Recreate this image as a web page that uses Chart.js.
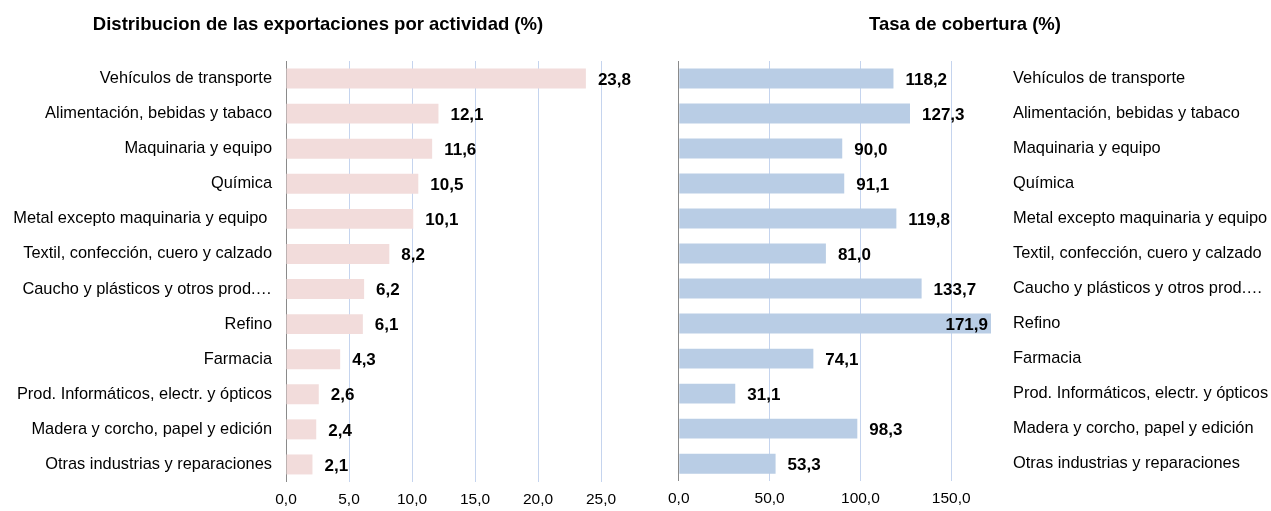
<!DOCTYPE html>
<html>
<head>
<meta charset="utf-8">
<script src="https://cdn.jsdelivr.net/npm/chart.js@4"></script>
<style>
  html, body { margin: 0; padding: 0; background: #fff; }
  body { width: 1271px; height: 511px; position: relative; overflow: hidden; }
  .box { position: absolute; top: 0; height: 511px; }
  #left { left: 0; width: 640px; }
  #right { left: 660px; width: 611px; }
</style>
</head>
<body>
<div class="box" id="left"><canvas id="cLeft"></canvas></div>
<div class="box" id="right"><canvas id="cRight"></canvas></div>
<script>
// Sectores de actividad (mismo orden en ambos gráficos)
const categories = [
  'Vehículos de transporte',
  'Alimentación, bebidas y tabaco',
  'Maquinaria y equipo',
  'Química',
  'Metal excepto maquinaria y equipo ',
  'Textil, confección, cuero y calzado',
  'Caucho y plásticos y otros prod.…',
  'Refino',
  'Farmacia',
  'Prod. Informáticos, electr. y ópticos',
  'Madera y corcho, papel y edición',
  'Otras industrias y reparaciones'
];

// Distribución de las exportaciones por actividad (%)
const exportShare = [23.8, 12.1, 11.6, 10.5, 10.1, 8.2, 6.2, 6.1, 4.3, 2.6, 2.4, 2.1];

// Tasa de cobertura (%)
const coverageRate = [118.2, 127.3, 90.0, 91.1, 119.8, 81.0, 133.7, 171.9, 74.1, 31.1, 98.3, 53.3];

// Marcas del eje horizontal
const shareTicks = [0, 5, 10, 15, 20, 25];
const coverageTicks = [0, 50, 100, 150];

const FONT = '"Liberation Sans", Arial, sans-serif';
const GRID = '#c5d4ee';
const AXIS = '#8a8a8a';

const fmt = v => v.toFixed(1).replace('.', ',');

// Título de cada panel, centrado en una posición fija del lienzo
const panelTitle = {
  id: 'panelTitle',
  afterDraw(chart, args, opts) {
    const ctx = chart.ctx;
    ctx.save();
    ctx.font = 'bold 18.5px ' + FONT;
    ctx.fillStyle = '#000';
    ctx.textAlign = 'center';
    ctx.textBaseline = 'middle';
    ctx.fillText(opts.text, opts.x, 25);
    ctx.restore();
  }
};

// Etiquetas de valor al final de cada barra
const valueLabels = {
  id: 'valueLabels',
  afterDatasetsDraw(chart, args, opts) {
    const ctx = chart.ctx;
    const meta = chart.getDatasetMeta(0);
    const data = chart.data.datasets[0].data;
    const limit = opts.limitToArea ? chart.chartArea.right : chart.width;
    ctx.save();
    ctx.font = 'bold 17px ' + FONT;
    ctx.fillStyle = '#000';
    ctx.textBaseline = 'middle';
    meta.data.forEach((bar, i) => {
      const txt = fmt(data[i]);
      const w = ctx.measureText(txt).width;
      const x = bar.x + 12;
      if (x + w > limit) {
        ctx.textAlign = 'right';
        ctx.fillText(txt, bar.x - 3, bar.y + 1.5);
      } else {
        ctx.textAlign = 'left';
        ctx.fillText(txt, x, bar.y + 1.5);
      }
    });
    ctx.restore();
  }
};

function makeChart(canvasId, cfg) {
  return new Chart(document.getElementById(canvasId), {
    type: 'bar',
    data: {
      labels: categories,
      datasets: [{
        data: cfg.values,
        backgroundColor: cfg.color,
        borderWidth: 0,
        barPercentage: 0.57,
        categoryPercentage: 1.0
      }]
    },
    plugins: [valueLabels, panelTitle],
    options: {
      indexAxis: 'y',
      responsive: true,
      maintainAspectRatio: false,
      animation: false,
      layout: { padding: cfg.padding },
      plugins: {
        legend: { display: false },
        tooltip: { enabled: false },
        title: { display: false },
        panelTitle: { text: cfg.title, x: cfg.titleX },
        valueLabels: { limitToArea: cfg.limitToArea }
      },
      scales: {
        x: {
          min: 0,
          max: cfg.max,
          afterBuildTicks: scale => {
            scale.ticks = cfg.ticks.map(v => ({ value: v }));
          },
          grid: {
            drawTicks: false,
            lineWidth: 1,
            color: c => (c.tick && c.tick.value === 0) ? AXIS : GRID
          },
          border: { display: false },
          ticks: {
            padding: 8,
            color: '#000',
            font: { family: FONT, size: 15.5 },
            callback: v => fmt(v)
          },
          afterFit: scale => { scale.height = 24; }
        },
        y: {
          position: cfg.yPos,
          grid: { display: false, drawTicks: false },
          border: { display: false },
          ticks: {
            padding: cfg.labelPad,
            color: '#000',
            font: { family: FONT, size: 16.4 },
            autoSkip: false
          },
          afterFit: scale => { scale.width = cfg.yWidth; }
        }
      }
    }
  });
}

makeChart('cLeft', {
  values: exportShare,
  color: '#f2dcdb',
  title: 'Distribucion de las exportaciones por actividad (%)',
  titleX: 318,
  max: 25,
  ticks: shareTicks,
  yPos: 'left',
  yWidth: 286,
  labelPad: 14,
  limitToArea: false,
  padding: { left: 0, right: 39, top: 61, bottom: 5 }
});

makeChart('cRight', {
  values: coverageRate,
  color: '#b9cde5',
  title: 'Tasa de cobertura (%)',
  titleX: 305,
  max: 173,
  ticks: coverageTicks,
  yPos: 'right',
  yWidth: 278,
  labelPad: 20,
  limitToArea: true,
  padding: { left: 18, right: 0, top: 61, bottom: 5 }
});
</script>
</body>
</html>
